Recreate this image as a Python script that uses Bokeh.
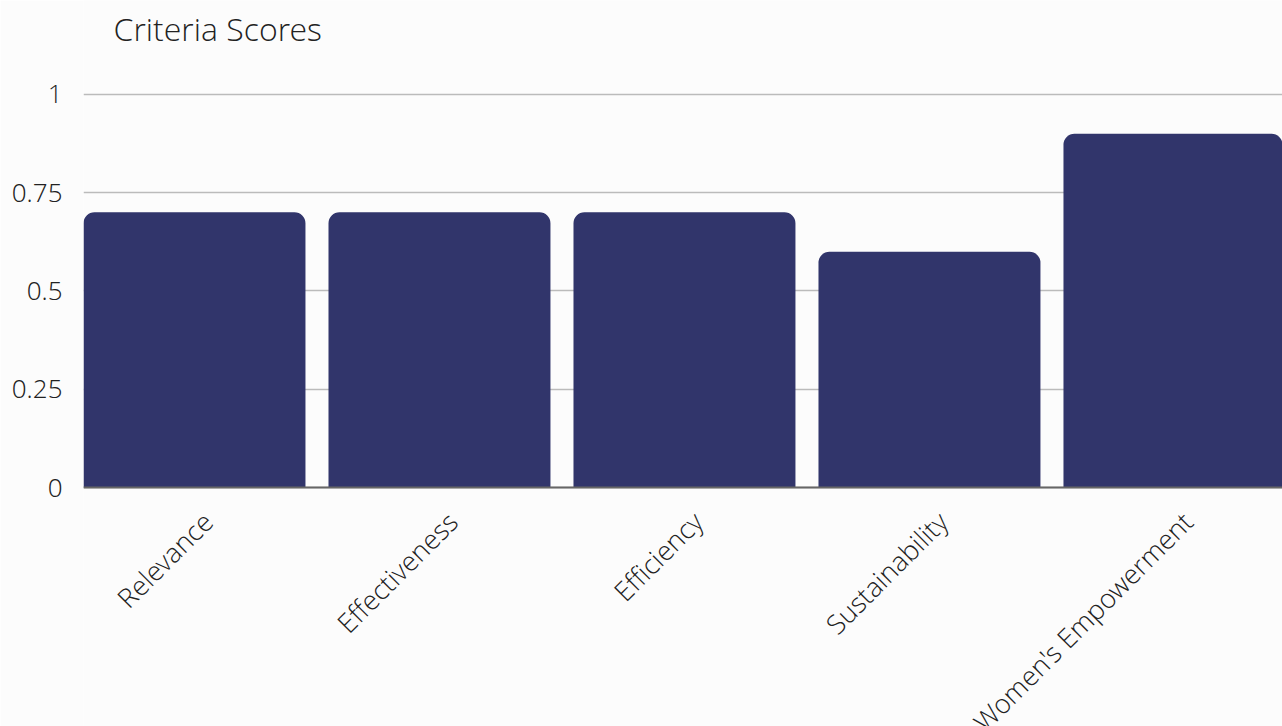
from bokeh.plotting import figure
from bokeh.models import Range1d, FixedTicker, ColumnDataSource, LabelSet, Label, Span
from bokeh.core.properties import value
from bokeh.embed import file_html
from bokeh.resources import INLINE
import math

categories = ["Relevance", "Effectiveness", "Efficiency", "Sustainability", "Women's Empowerment"]
scores = [0.7, 0.7, 0.7, 0.6, 0.9]
y_ticks = [0, 0.25, 0.5, 0.75, 1]
y_tick_labels = ["0", "0.25", "0.5", "0.75", "1"]
title_text = "Criteria Scores"

FONT = "Open Sans Light"
BAR = "#31356b"
BG = "#fcfcfc"
TXT = "#222222"

xs = list(range(len(categories)))
label_shift = 0.0
src = ColumnDataSource(dict(x=xs, top=scores, cat=categories,
                            lx=[i + label_shift for i in xs], ly=[0] * len(xs)))

# the frame covers the whole page height so category labels below zero remain visible
p = figure(width=1282, height=726, output_backend="svg", toolbar_location=None,
           x_range=Range1d(-0.453, 4.441), y_range=Range1d(-0.608, 1.239),
           min_border_left=83, min_border_right=0, min_border_top=0, min_border_bottom=0,
           background_fill_color=BG, border_fill_color=BG, outline_line_color=None)

p.ygrid.grid_line_color = "#bbbbbb"
p.ygrid.grid_line_width = 1.5
p.ygrid.ticker = FixedTicker(ticks=y_ticks)
p.xgrid.visible = False
p.xaxis.visible = False

p.vbar(x="x", top="top", width=0.906, bottom=0, source=src, fill_color=BAR, line_color=None,
       border_radius=(11, 11, 0, 0))

p.add_layout(Span(location=0, dimension="width", line_color="#666666", line_width=2))

p.yaxis.ticker = FixedTicker(ticks=y_ticks)
p.yaxis.major_label_overrides = {t: l for t, l in zip(y_ticks, y_tick_labels)}
p.yaxis.axis_line_color = None
p.yaxis.major_tick_line_color = None
p.yaxis.major_tick_out = 0
p.yaxis.minor_tick_line_color = None
p.yaxis.major_label_text_font = FONT
p.yaxis.major_label_text_font_size = "26px"
p.yaxis.major_label_text_color = TXT
p.yaxis.major_label_standoff = 21

labels = LabelSet(x="lx", y="ly", text="cat", source=src, angle=math.pi / 4,
                  y_offset=-16, text_align="right", text_baseline="top",
                  text_font=value(FONT), text_font_size="27px", text_color=TXT)
p.add_layout(labels)

title = Label(x=30, y=698, x_units="screen", y_units="screen", text=title_text,
              text_font=FONT, text_font_size="32px", text_color=TXT,
              text_baseline="middle", text_align="left")
p.add_layout(title)

open("out.html", "w").write(file_html(p, INLINE))
